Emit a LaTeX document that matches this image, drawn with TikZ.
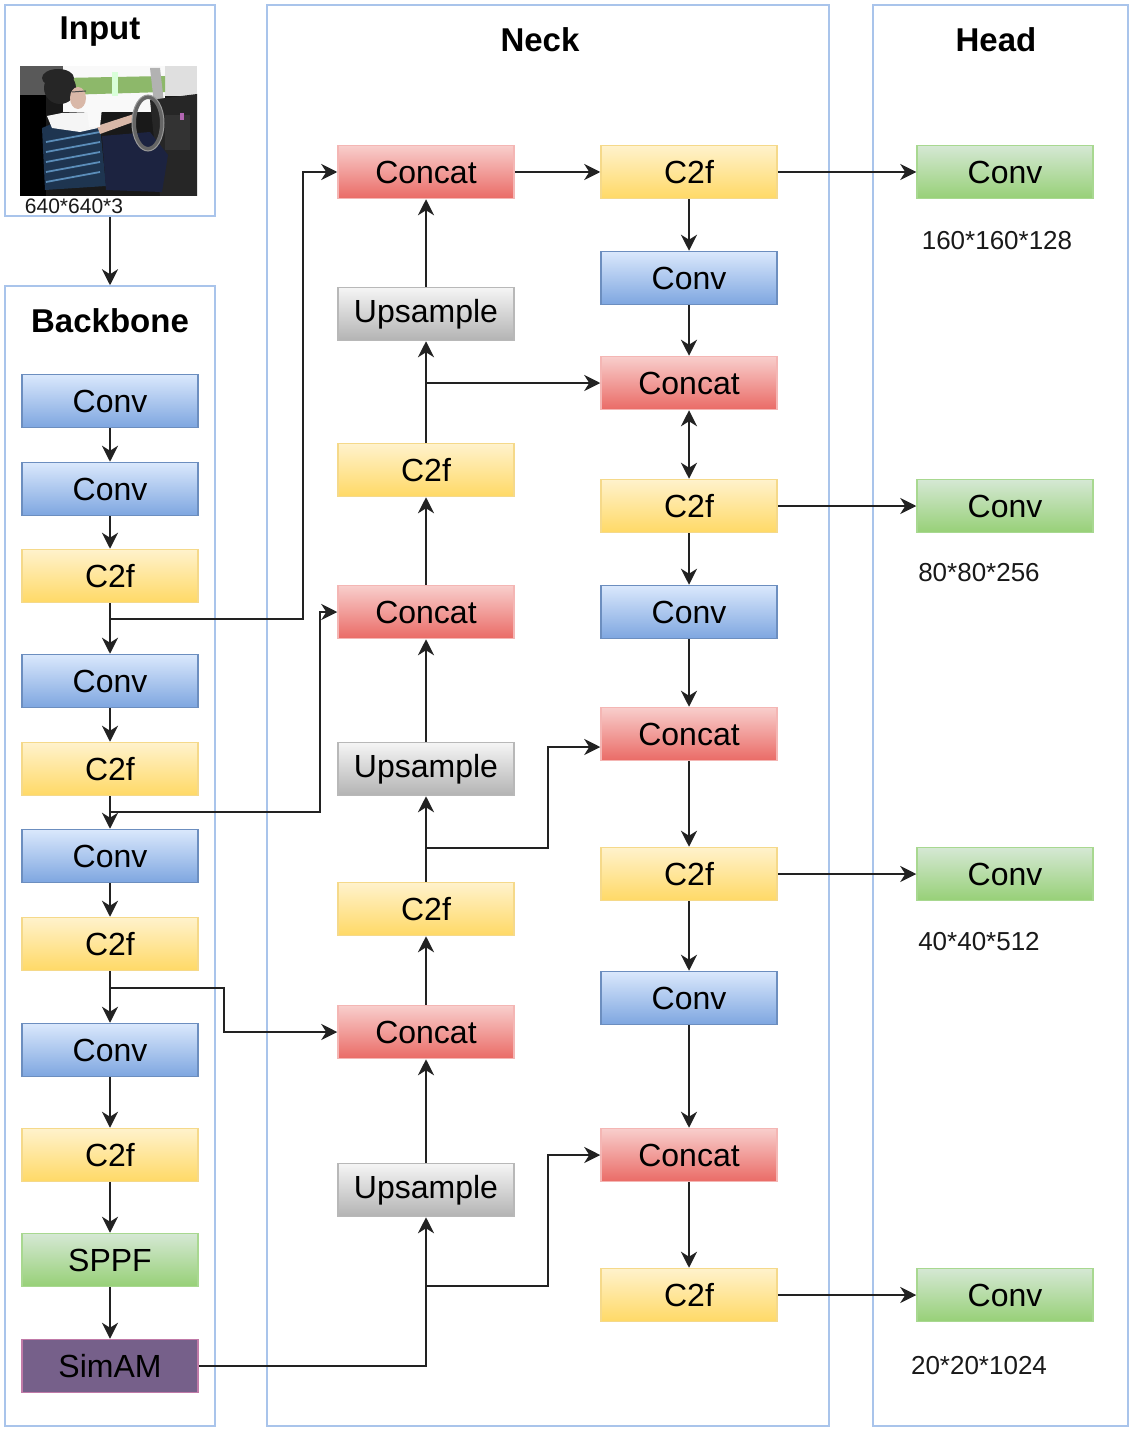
\documentclass[tikz,border=0pt]{standalone}
\usepackage{fontspec}
\setmainfont{Liberation Sans}
\usetikzlibrary{arrows.meta}
\definecolor{frameC}{HTML}{A9C4EB}
\definecolor{convT}{HTML}{DAE8FC}\definecolor{convB}{HTML}{7EA6E0}\definecolor{convD}{HTML}{6C8EBF}
\definecolor{c2fT}{HTML}{FFF2CC}\definecolor{c2fB}{HTML}{FFD966}\definecolor{c2fD}{HTML}{F5D98A}
\definecolor{catT}{HTML}{F8CECC}\definecolor{catB}{HTML}{EA6B66}\definecolor{catD}{HTML}{F4B6B4}
\definecolor{upT}{HTML}{F5F5F5}\definecolor{upB}{HTML}{B3B3B3}\definecolor{upD}{HTML}{B8B8B8}
\definecolor{grT}{HTML}{D5E8D4}\definecolor{grB}{HTML}{97D077}\definecolor{grD}{HTML}{A8D890}
\definecolor{simF}{HTML}{76608A}\definecolor{simD}{HTML}{C07AA8}
\definecolor{lineC}{HTML}{222222}
\definecolor{skin}{HTML}{D9B8A8}
\definecolor{navy}{HTML}{1C2340}
\definecolor{shirt}{HTML}{1E3550}
\definecolor{stripe}{HTML}{5B8DB8}
\definecolor{winG}{HTML}{8DB86A}
\begin{document}
\begin{tikzpicture}[x=1pt,y=-1pt,
  blk/.style={draw, line width=1.5pt, minimum width=176pt, minimum height=53pt, inner sep=0pt,
    font=\fontsize{32}{36}\selectfont, text=black},
  convb/.style={blk, top color=convT, bottom color=convB, draw=convD},
  c2fb/.style={blk, top color=c2fT, bottom color=c2fB, draw=c2fD},
  catb/.style={blk, top color=catT, bottom color=catB, draw=catD},
  upb/.style={blk, top color=upT, bottom color=upB, draw=upD},
  grb/.style={blk, top color=grT, bottom color=grB, draw=grD},
  simb/.style={blk, fill=simF, draw=simD},
  panel/.style={draw=frameC, line width=1.5pt, inner sep=0pt},
  ttl/.style={font=\fontsize{33}{38}\selectfont\bfseries, text=black},
  dim/.style={font=\fontsize{26}{30}\selectfont, text=black!90},
  tip/.tip={Stealth[length=16pt,width=16pt,inset=5pt]},
  arr/.style={-tip, line width=2.2pt, draw=lineC},
  darr/.style={tip-tip, line width=2.2pt, draw=lineC},
]
\useasboundingbox (0,0) rectangle (1136,1434);
\fill[white] (0,0) rectangle (1136,1434);

% panels
\node[panel, minimum width=210pt, minimum height=211pt] (inF) at (110,110.5) {};
\node[panel, minimum width=210pt, minimum height=1140pt] (bbF) at (110,856) {};
\node[panel, minimum width=562pt, minimum height=1421pt] (nkF) at (548,715.5) {};
\node[panel, minimum width=255pt, minimum height=1421pt] (hdF) at (1000.5,715.5) {};

% titles
\node[ttl] (tIn) at (100,32) {Input};
\node[ttl] (tBb) at (110,321) {Backbone};
\node[ttl] (tNk) at (540,40) {Neck};
\node[ttl] (tHd) at (996,40) {Head};

% input photo (stylised)
\begin{scope}
\clip (20,66) rectangle (197,196);
\fill[black!90] (20,66) rectangle (197,196);
\fill[gray!70!black] (20,66) rectangle (65,95);
\fill[gray!25] (160,66) rectangle (197,96);
\fill[white!95!gray] (63,66) rectangle (165,112);
\fill[winG] (63,78) -- (165,76) -- (165,92) -- (63,95) -- cycle;
\fill[white!85!green] (112,72) rectangle (118,96);
\fill[gray!60] (150,68) -- (160,68) -- (165,112) -- (155,112) -- cycle;
\fill[gray!30!black] (150,100) -- (197,94) -- (197,196) -- (160,196) -- cycle;
\fill[black!80] (165,115) rectangle (190,150);
\fill[violet!60] (180,113) rectangle (184,120);
\fill[black] (20,95) rectangle (46,196);
\fill[black!85] (60,88) circle (16);
\fill[skin] (78,98) ellipse (8 and 11);
\draw[black!70, line width=1pt] (72,92) -- (86,91);
\fill[black!85] (58,78) ellipse (16 and 9);
\fill[shirt] (42,128) -- (66,118) -- (100,126) -- (106,186) -- (45,190) -- cycle;
\foreach \yy in {136,146,156,166,176}{
  \draw[stripe, line width=1.8pt] (46,\yy+6) -- (100,\yy-4);
}
\fill[white!92!gray] (47,116) -- (62,113) -- (92,112) -- (98,128) -- (80,132) -- (52,128) -- cycle;
\fill[navy] (102,136) -- (150,132) -- (168,155) -- (162,192) -- (106,190) -- cycle;
\fill[skin] (97,126) -- (134,114) -- (136,121) -- (100,134) -- cycle;
\fill[white!95!gray] (87,108) -- (102,108) -- (100,127) -- (89,127) -- cycle;
\draw[black!60, line width=4pt] (148,123) ellipse (14 and 26);
\draw[gray!80, line width=1pt] (148,123) ellipse (16 and 28);
\end{scope}
\node[font=\fontsize{21}{24}\selectfont, text=black!90] (inDim) at (74,206) {640*640*3};

\draw[arr] (inF.south) -- (bbF.north);

% backbone
\node[convb] (b1) at (110,401) {Conv};
\node[convb] (b2) at (110,489) {Conv};
\node[c2fb]  (b3) at (110,576) {C2f};
\node[convb] (b4) at (110,681) {Conv};
\node[c2fb]  (b5) at (110,769) {C2f};
\node[convb] (b6) at (110,856) {Conv};
\node[c2fb]  (b7) at (110,944) {C2f};
\node[convb] (b8) at (110,1050) {Conv};
\node[c2fb]  (b9) at (110,1155) {C2f};
\node[grb]   (b10) at (110,1260) {SPPF};
\node[simb]  (b11) at (110,1366) {SimAM};
\foreach \a/\b in {b1/b2,b2/b3,b3/b4,b4/b5,b5/b6,b6/b7,b7/b8,b8/b9,b9/b10,b10/b11}{
  \draw[arr] (\a.south) -- (\b.north);
}

% neck left column
\node[catb] (n1) at (426,172) {Concat};
\node[upb]  (n2) at (426,314) {Upsample};
\node[c2fb] (n3) at (426,470) {C2f};
\node[catb] (n4) at (426,612) {Concat};
\node[upb]  (n5) at (426,769) {Upsample};
\node[c2fb] (n6) at (426,909) {C2f};
\node[catb] (n7) at (426,1032) {Concat};
\node[upb]  (n8) at (426,1190) {Upsample};

% neck right column
\node[c2fb]  (r1) at (689,172) {C2f};
\node[convb] (r2) at (689,278) {Conv};
\node[catb]  (r3) at (689,383) {Concat};
\node[c2fb]  (r4) at (689,506) {C2f};
\node[convb] (r5) at (689,612) {Conv};
\node[catb]  (r6) at (689,734) {Concat};
\node[c2fb]  (r7) at (689,874) {C2f};
\node[convb] (r8) at (689,998) {Conv};
\node[catb]  (r9) at (689,1155) {Concat};
\node[c2fb]  (r10) at (689,1295) {C2f};

% head
\node[grb] (h1) at (1005,172) {Conv};
\node[grb] (h2) at (1005,506) {Conv};
\node[grb] (h3) at (1005,874) {Conv};
\node[grb] (h4) at (1005,1295) {Conv};
\node[dim] (d1) at (997,241) {160*160*128};
\node[dim] (d2) at (979,573) {80*80*256};
\node[dim] (d3) at (979,942) {40*40*512};
\node[dim] (d4) at (979,1366) {20*20*1024};

% junction coordinates
\coordinate (j1) at (110,619);
\coordinate (k1) at (303,619);
\coordinate (j2) at (110,812);
\coordinate (k2) at (320,812);
\coordinate (j3) at (110,988);
\coordinate (k3) at (224,988);
\coordinate (j4) at (426,383);
\coordinate (j5) at (426,848);
\coordinate (k5) at (548,848);
\coordinate (j6) at (426,1286);
\coordinate (k6) at (548,1286);

% backbone to neck
\draw[arr] (j1) -- (k1) |- (n1.west);
\draw[arr] (j2) -- (k2) |- (n4.west);
\draw[arr] (j3) -- (k3) |- (n7.west);
\draw[arr] (b11.east) -| (n8.south);

% neck left upward
\draw[arr] (n8.north) -- (n7.south);
\draw[arr] (n7.north) -- (n6.south);
\draw[arr] (n6.north) -- (n5.south);
\draw[arr] (n5.north) -- (n4.south);
\draw[arr] (n4.north) -- (n3.south);
\draw[arr] (n3.north) -- (n2.south);
\draw[arr] (n2.north) -- (n1.south);

% cross links
\draw[arr] (n1.east) -- (r1.west);
\draw[arr] (j4) -- (r3.west);
\draw[arr] (j5) -- (k5) |- ([yshift=-13pt]r6.west);
\draw[arr] (j6) -- (k6) |- (r9.west);

% neck right downward
\draw[arr] (r1.south) -- (r2.north);
\draw[arr] (r2.south) -- (r3.north);
\draw[darr] (r3.south) -- (r4.north);
\draw[arr] (r4.south) -- (r5.north);
\draw[arr] (r5.south) -- (r6.north);
\draw[arr] (r6.south) -- (r7.north);
\draw[arr] (r7.south) -- (r8.north);
\draw[arr] (r8.south) -- (r9.north);
\draw[arr] (r9.south) -- (r10.north);

% to head
\draw[arr] (r1.east) -- (h1.west);
\draw[arr] (r4.east) -- (h2.west);
\draw[arr] (r7.east) -- (h3.west);
\draw[arr] (r10.east) -- (h4.west);
\end{tikzpicture}
\end{document}
